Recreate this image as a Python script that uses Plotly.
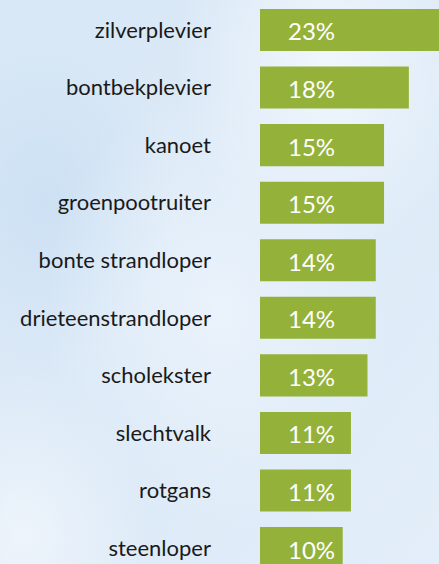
import plotly.graph_objects as go
import urllib.parse

categories = ["zilverplevier", "bontbekplevier", "kanoet", "groenpootruiter",
              "bonte strandloper", "drieteenstrandloper", "scholekster",
              "slechtvalk", "rotgans", "steenloper"]
values = [23, 18, 15, 15, 14, 14, 13, 11, 11, 10]
labels = [f"{v}%" for v in values]

GREEN = "#94b23a"
FONT = "Lato"

svg = """<svg xmlns='http://www.w3.org/2000/svg' width='439' height='564'>
<defs>
<linearGradient id='g' x1='0' y1='0' x2='1' y2='1'>
<stop offset='0' stop-color='#d9e8f6'/><stop offset='0.5' stop-color='#dbe9f7'/><stop offset='1' stop-color='#e3eef9'/>
</linearGradient>
<radialGradient id='r1' cx='0.75' cy='0.12' r='0.35'><stop offset='0' stop-color='#f3f8fd' stop-opacity='0.9'/><stop offset='1' stop-color='#f3f8fd' stop-opacity='0'/></radialGradient>
<radialGradient id='r2' cx='0.5' cy='0.55' r='0.4'><stop offset='0' stop-color='#eef5fc' stop-opacity='0.8'/><stop offset='1' stop-color='#eef5fc' stop-opacity='0'/></radialGradient>
<radialGradient id='r3' cx='0.05' cy='0.95' r='0.3'><stop offset='0' stop-color='#f2f7fc' stop-opacity='0.8'/><stop offset='1' stop-color='#f2f7fc' stop-opacity='0'/></radialGradient>
<radialGradient id='r4' cx='0.1' cy='0.35' r='0.3'><stop offset='0' stop-color='#c9dff3' stop-opacity='0.8'/><stop offset='1' stop-color='#c9dff3' stop-opacity='0'/></radialGradient>
</defs>
<rect width='439' height='564' fill='url(#g)'/>
<rect width='439' height='564' fill='url(#r4)'/>
<rect width='439' height='564' fill='url(#r1)'/>
<rect width='439' height='564' fill='url(#r2)'/>
<rect width='439' height='564' fill='url(#r3)'/>
</svg>"""
bg_src = "data:image/svg+xml;charset=utf-8," + urllib.parse.quote(svg)

fig = go.Figure(go.Bar(
    x=values, y=categories, orientation="h",
    marker=dict(color=GREEN, line=dict(width=0)),
    hoverinfo="skip",
))

for c, t in zip(categories, labels):
    fig.add_annotation(x=0, y=c, text=t, showarrow=False, xanchor="left",
                       xshift=26, yshift=-1,
                       font=dict(family=FONT, size=24, color="white"))

fig.update_layout(
    width=439, height=564,
    margin=dict(l=260, r=0, t=0, b=0),
    paper_bgcolor="#dbe9f7", plot_bgcolor="rgba(0,0,0,0)",
    bargap=0.27,
    showlegend=False,
    images=[dict(source=bg_src, xref="paper", yref="paper", x=-260/179, y=1,
                 sizex=439/179, sizey=1, xanchor="left", yanchor="top",
                 sizing="stretch", layer="below")],
    xaxis=dict(range=[0, 179/8.27], visible=False, fixedrange=True),
    yaxis=dict(range=[9.277, -0.521], showgrid=False, zeroline=False,
               showline=False, ticks="", ticklabelstandoff=48,
               tickfont=dict(family=FONT, size=22, color="#1a1a1a")),
)

fig.write_html("out.html", config={"displayModeBar": False},
               post_script="document.body.style.margin='0';document.body.style.overflow='hidden';")
